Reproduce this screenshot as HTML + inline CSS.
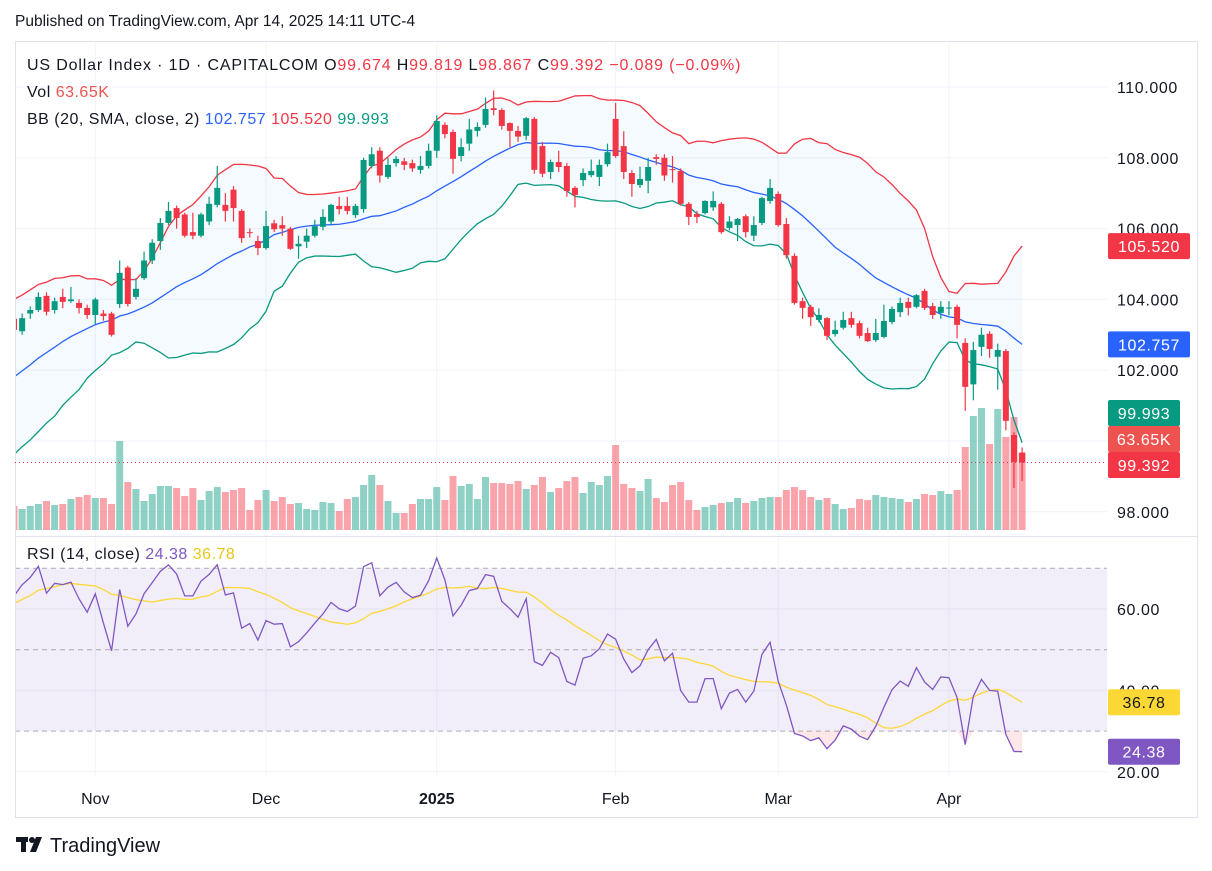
<!DOCTYPE html>
<html><head><meta charset="utf-8"><style>
html,body{margin:0;padding:0;background:#fff;}
svg{display:block;font-family:"Liberation Sans",sans-serif;}
</style></head><body>
<svg id="root" width="1212" height="871" viewBox="0 0 1212 871">
<text x="15" y="26" font-size="15.5" fill="#131722">Published on TradingView.com, Apr 14, 2025 14:11 UTC-4</text>
<rect x="15.5" y="41.5" width="1182" height="776" fill="#fff" stroke="#e0e3eb"/>
<g id="grid"></g>
<g id="price"></g>
<g id="rsi"></g>
<g id="axes"></g>
<text x="27" y="70" font-size="16" letter-spacing="0.85" fill="#131722">US Dollar Index · 1D · CAPITALCOM <tspan>O</tspan><tspan fill="#f23645">99.674</tspan> <tspan>H</tspan><tspan fill="#f23645">99.819</tspan> <tspan>L</tspan><tspan fill="#f23645">98.867</tspan> <tspan>C</tspan><tspan fill="#f23645">99.392</tspan> <tspan fill="#f23645">−0.089 (−0.09%)</tspan></text>
<text x="27" y="97" font-size="16" letter-spacing="0.5" fill="#131722">Vol <tspan fill="#ef5350">63.65K</tspan></text>
<text x="27" y="124" font-size="16" letter-spacing="0.5" fill="#131722">BB (20, SMA, close, 2) <tspan fill="#2962ff">102.757</tspan> <tspan fill="#f23645">105.520</tspan> <tspan fill="#089981">99.993</tspan></text>
<text x="27" y="559" font-size="16" letter-spacing="0.5" fill="#131722">RSI (14, close) <tspan fill="#7e57c2">24.38</tspan> <tspan fill="#e6c619">36.78</tspan></text>
<g>
<rect x="16" y="837" width="12" height="5" fill="#131722"/>
<rect x="21" y="837" width="5" height="15" fill="#131722"/>
<circle cx="32" cy="840" r="3" fill="#131722"/>
<polygon points="36,837 42,837 36,852 30,852" fill="#131722"/>
<text x="50" y="852" font-size="20" fill="#131722">TradingView</text>
</g>
</svg>
<script>
const opens=[103.45,103.10,103.60,103.70,104.10,103.70,104.07,103.95,103.90,103.76,
103.56,103.60,103.60,103.87,104.90,104.07,104.60,105.10,105.65,106.16,
106.58,106.40,105.90,105.80,106.20,106.67,106.67,107.10,106.50,105.90,
105.65,105.45,106.15,106.10,106.00,105.50,105.63,105.80,106.05,106.20,
106.64,106.64,106.38,106.55,107.77,108.20,107.46,107.85,107.90,107.85,
107.66,107.77,108.20,108.93,108.73,108.05,108.40,108.76,108.93,109.40,
109.35,108.98,108.76,108.62,109.10,108.33,107.60,107.88,107.77,107.15,
107.37,107.51,107.46,107.82,109.10,108.33,107.57,107.23,107.35,108.02,
108.00,107.68,107.63,106.70,106.41,106.44,106.60,106.70,106.02,106.10,
106.35,105.80,106.16,106.78,106.98,106.13,105.23,103.95,103.79,103.42,
103.47,103.02,103.20,103.47,103.33,103.05,102.85,102.94,103.36,103.64,
103.93,103.79,104.24,103.81,103.62,103.76,103.79,102.77,101.60,102.66,
103.03,102.38,102.54,100.17,99.674];
const closes=[103.14,103.47,103.70,104.07,103.65,103.95,103.93,104.00,103.76,103.56,
104.00,103.53,103.00,104.75,103.87,104.30,105.10,105.60,106.16,106.50,
106.30,105.80,105.80,106.40,106.70,107.15,106.50,106.58,105.73,105.88,
105.45,106.07,105.98,106.00,105.43,105.57,105.80,106.07,106.33,106.67,
106.55,106.50,106.64,107.94,108.10,107.50,107.80,107.97,107.80,107.70,
107.77,108.20,109.04,108.67,107.97,108.30,108.80,108.87,109.38,109.35,
108.90,108.76,108.60,109.12,107.66,107.55,107.88,107.74,107.06,106.95,
107.57,107.63,107.80,108.16,108.05,107.60,107.26,107.40,107.74,107.97,
107.50,107.66,106.70,106.33,106.33,106.78,106.78,105.90,106.20,106.27,
105.90,106.10,106.86,107.15,106.10,105.25,103.90,103.76,103.50,103.56,
102.97,103.14,103.42,103.28,102.97,102.82,103.05,103.39,103.73,103.90,
103.76,104.12,103.76,103.56,103.79,103.77,103.28,101.53,102.57,103.00,
102.60,102.57,100.57,99.41,99.392];
const highs=[103.55,103.60,103.80,104.20,104.20,104.05,104.30,104.35,104.00,103.85,
104.05,103.70,103.65,105.10,104.95,104.60,105.35,105.70,106.30,106.75,
106.65,106.45,106.45,106.45,106.90,107.77,107.00,107.20,106.55,106.00,
105.80,106.50,106.25,106.35,106.05,105.80,106.00,106.25,106.55,106.70,
106.90,106.90,106.70,108.00,108.30,108.30,108.00,108.05,108.00,107.95,
108.05,108.40,109.20,109.00,108.80,108.55,109.10,109.00,109.70,109.90,
109.40,109.00,108.90,109.15,109.15,108.45,107.95,108.20,107.85,107.20,
107.70,107.95,107.95,108.40,109.55,108.75,107.65,107.75,108.00,108.10,
108.10,108.05,107.70,106.75,106.50,106.80,107.05,106.75,106.35,106.30,
106.40,106.35,106.90,107.40,107.05,106.30,105.30,104.05,103.85,103.75,
103.50,103.40,103.65,103.65,103.40,103.20,103.45,103.85,103.80,104.05,
104.05,104.15,104.30,103.90,103.95,103.95,103.85,102.90,102.80,103.20,
103.10,102.75,102.60,100.25,99.819];
const lows=[103.05,103.00,103.45,103.65,103.55,103.60,103.75,103.90,103.60,103.45,
103.30,103.40,102.95,103.76,103.80,104.00,104.55,105.00,105.40,106.10,
106.00,105.75,105.70,105.75,106.10,106.60,106.20,106.20,105.60,105.75,
105.25,105.40,105.90,105.80,105.40,105.15,105.45,105.75,105.95,106.10,
106.40,106.40,106.30,106.45,107.70,107.30,107.40,107.75,107.65,107.60,
107.55,107.70,108.00,108.55,107.55,107.90,108.20,108.60,108.85,109.20,
108.80,108.30,108.45,108.50,107.55,107.45,107.40,107.60,106.90,106.60,
107.20,107.45,107.20,107.75,108.00,107.40,106.90,107.15,107.00,107.80,
107.35,107.30,106.65,106.10,106.15,106.40,106.50,105.85,105.95,105.65,
105.75,105.65,106.10,106.70,106.05,105.15,103.85,103.45,103.25,103.35,
102.85,102.95,103.15,103.20,102.90,102.80,102.80,102.90,103.30,103.50,
103.55,103.75,103.70,103.45,103.45,103.55,102.90,100.85,101.15,102.40,
102.35,101.45,100.30,98.67,98.867];
const volumes=[24,21,24,26,29,25,26,31,33,35,
32,32,26,89,48,41,29,36,44,44,
42,34,42,30,39,43,38,40,42,20,
30,40,29,33,26,27,21,20,28,27,
19,31,33,45,55,45,29,17,17,26,
31,31,43,30,54,44,46,31,53,47,
47,46,49,41,45,53,38,42,49,53,
37,48,45,54,85,46,42,39,51,32,
28,45,48,30,20,23,25,27,28,32,
27,29,32,33,33,40,43,40,33,30,
32,26,21,22,31,30,35,33,32,31,
28,31,36,35,39,36,40,83,114,122,
86,121,93,113,77];
const preCloses=[101.2,101.0,100.8,101.1,100.7,100.5,100.8,100.4,100.2,100.5,100.1,
100.0,100.3,100.2,100.6,100.9,100.7,101.2,101.5,101.3,101.8,102.1,101.9,102.4,102.7,102.5,103.0,103.3,103.1,103.5];
const priceTicks=[110,108,106,104,102,100,98];
const priceTickLabels=['110.000','108.000','106.000','104.000','102.000','','98.000'];
const rsiTicks=[60,40,20];
const rsiTickLabels=['60.00','40.00','20.00'];
const monthLabels=['Nov','Dec','2025','Feb','Mar','Apr'];
const monthIdx=[10,31,52,74,94,115];

const NS='http://www.w3.org/2000/svg';
const X0=15,X1=1107;
function xOf(i){return 14+i*8.13;}
function yP(p){return 87+(110-p)*35.4;}
function yV(v){return 530-v*1.0;}
function yR(r){return 609+(60-r)*4.07;}
function mk(tag,attrs,parent){const e=document.createElementNS(NS,tag);for(const k in attrs)e.setAttribute(k,attrs[k]);parent.appendChild(e);return e;}

const root=document.getElementById('root');
const defs=mk('defs',{},root);
const cp=mk('clipPath',{id:'cpP'},defs);mk('rect',{x:X0+1,y:42,width:X1-X0-1,height:494},cp);
const cr=mk('clipPath',{id:'cpR'},defs);mk('rect',{x:X0+1,y:537,width:X1-X0-1,height:240},cr);

const grid=document.getElementById('grid');
priceTicks.forEach(p=>{const l=mk('line',{x1:X0,x2:X1,y1:yP(p),y2:yP(p),stroke:'#f0f3fa','stroke-width':1},grid);

});
rsiTicks.forEach(r=>{const l=mk('line',{x1:X0,x2:X1,y1:yR(r),y2:yR(r),stroke:'#f0f3fa','stroke-width':1},grid);

});
monthIdx.forEach(i=>{const l=mk('line',{x1:xOf(i),x2:xOf(i),y1:42,y2:777,stroke:'#f0f3fa','stroke-width':1},grid);

});

const full=preCloses.concat(closes);const P=preCloses.length;
const bbMid=[],bbUp=[],bbLo=[];
for(let i=0;i<closes.length;i++){const w=full.slice(P+i-19,P+i+1);const m=w.reduce((a,b)=>a+b,0)/20;
const sd=Math.sqrt(w.reduce((a,b)=>a+(b-m)*(b-m),0)/20);bbMid.push(m);bbUp.push(m+2*sd);bbLo.push(m-2*sd);}

const price=document.getElementById('price');
const pg=mk('g',{'clip-path':'url(#cpP)'},price);
volumes.forEach((v,i)=>{const up=closes[i]>=opens[i];
const r=mk('rect',{x:xOf(i)-3.5,y:yV(v),width:7,height:530-yV(v),fill:up?'rgba(8,153,129,0.45)':'rgba(242,54,69,0.45)'},pg);

});
let fp=bbUp.map((v,i)=>xOf(i)+','+yP(v)).join(' ')+' '+bbLo.map((v,i)=>xOf(i)+','+yP(v)).reverse().join(' ');
const bf=mk('polygon',{points:fp,fill:'rgba(33,150,243,0.05)'},pg);


[[bbUp,'#f23645','bb-upper-line'],[bbMid,'#2962ff','bb-basis-line'],[bbLo,'#089981','bb-lower-line']].forEach(a=>{
const pl=mk('polyline',{points:a[0].map((v,i)=>xOf(i)+','+yP(v)).join(' '),fill:'none',stroke:a[1],'stroke-width':1.3},pg);

});
closes.forEach((c,i)=>{const o=opens[i];const up=c>=o;const col=up?'#089981':'#f23645';const x=xOf(i);
const w=mk('line',{x1:x,x2:x,y1:yP(highs[i]),y2:yP(lows[i]),stroke:col,'stroke-width':1.2},pg);


const t=yP(Math.max(o,c)),b=yP(Math.min(o,c));
const r=mk('rect',{x:x-3,y:t,width:6,height:Math.max(1,b-t),fill:col},pg);

});
const ll=mk('line',{x1:X0,x2:X1,y1:yP(closes[closes.length-1]),y2:yP(closes[closes.length-1]),stroke:'#f23645','stroke-width':1,'stroke-dasharray':'1 3'},price);



const rsiAll=[];{let ag2=0,al2=0;for(let k=1;k<full.length;k++){const d=full[k]-full[k-1];const g=Math.max(d,0),l=Math.max(-d,0);
if(k<=14){ag2+=g/14;al2+=l/14;}else{ag2=(ag2*13+g)/14;al2=(al2*13+l)/14;}rsiAll.push(100-100/(1+ag2/(al2||1e-9)));}}
const rsi=rsiAll.slice(P-1);
const rsiMA=rsi.map((v,i)=>{const off=P-1+i;const w=rsiAll.slice(off-13,off+1);return w.reduce((a,b)=>a+b,0)/w.length;});

const rg=document.getElementById('rsi');
const rc=mk('g',{'clip-path':'url(#cpR)'},rg);
const band=mk('rect',{x:X0,y:yR(70),width:X1-X0,height:yR(30)-yR(70),fill:'rgba(126,87,194,0.1)'},rc);


// oversold fill
const os=rsi.map((v,i)=>xOf(i)+','+yR(Math.min(v,30))).join(' ');
const osf=mk('polygon',{points:xOf(0)+','+yR(30)+' '+os+' '+xOf(rsi.length-1)+','+yR(30),fill:'rgba(242,54,69,0.12)'},rc);


[70,50,30].forEach(v=>{const l=mk('line',{x1:X0,x2:X1,y1:yR(v),y2:yR(v),stroke:'#787b86','stroke-width':1,'stroke-dasharray':'5 4','stroke-opacity':0.6},rc);

});
const ml=mk('polyline',{points:rsiMA.map((v,i)=>xOf(i)+','+yR(v)).join(' '),fill:'none',stroke:'#fdd835','stroke-width':1.3},rc);


const rl=mk('polyline',{points:rsi.map((v,i)=>xOf(i)+','+yR(v)).join(' '),fill:'none',stroke:'#7e57c2','stroke-width':1.3},rc);



const ax=document.getElementById('axes');
const sep=mk('line',{x1:X0,x2:1197,y1:536.5,y2:536.5,stroke:'#e0e3eb'},ax);


priceTicks.forEach((p,i)=>{const t=mk('text',{x:1117,y:yP(p)+6,'font-size':16,'letter-spacing':0.6,fill:'#131722'},ax);t.textContent=priceTickLabels[i];

});
rsiTicks.forEach((r,i)=>{const t=mk('text',{x:1117,y:yR(r)+6,'font-size':16,'letter-spacing':0.6,fill:'#131722'},ax);t.textContent=rsiTickLabels[i];

});
monthLabels.forEach((m,i)=>{const t=mk('text',{x:xOf(monthIdx[i]),y:804,'font-size':16,'text-anchor':'middle',fill:'#131722','font-weight':m==='2025'?'bold':'normal'},ax);t.textContent=m;

});
const n=closes.length-1;
const tags=[[yP(bbUp[n]),'#f23645','105.520','#fff','bb-upper-tag'],[yP(bbMid[n]),'#2962ff','102.757','#fff','bb-basis-tag'],
[413,'#089981','99.993','#fff','bb-lower-tag'],[439,'#ef5350','63.65K','#fff','volume-tag'],[465,'#f23645','99.392','#fff','last-price-tag'],
[yR(rsiMA[n]),'#fdd835','36.78','#131722','rsi-ma-tag'],[yR(rsi[n]),'#7e57c2','24.38','#fff','rsi-tag']];
tags.forEach(tg=>{const g=mk('g',{},ax);


const w=tg[2].length>6?82:(tg[2].length>5?72:72);
mk('rect',{x:1108,y:tg[0]-13,width:w,height:26,rx:2,fill:tg[1]},g);
const t=mk('text',{x:1108+w/2,y:tg[0]+6,'font-size':16,'letter-spacing':0.6,'text-anchor':'middle',fill:tg[3]},g);t.textContent=tg[2];});
</script>
</body></html>
